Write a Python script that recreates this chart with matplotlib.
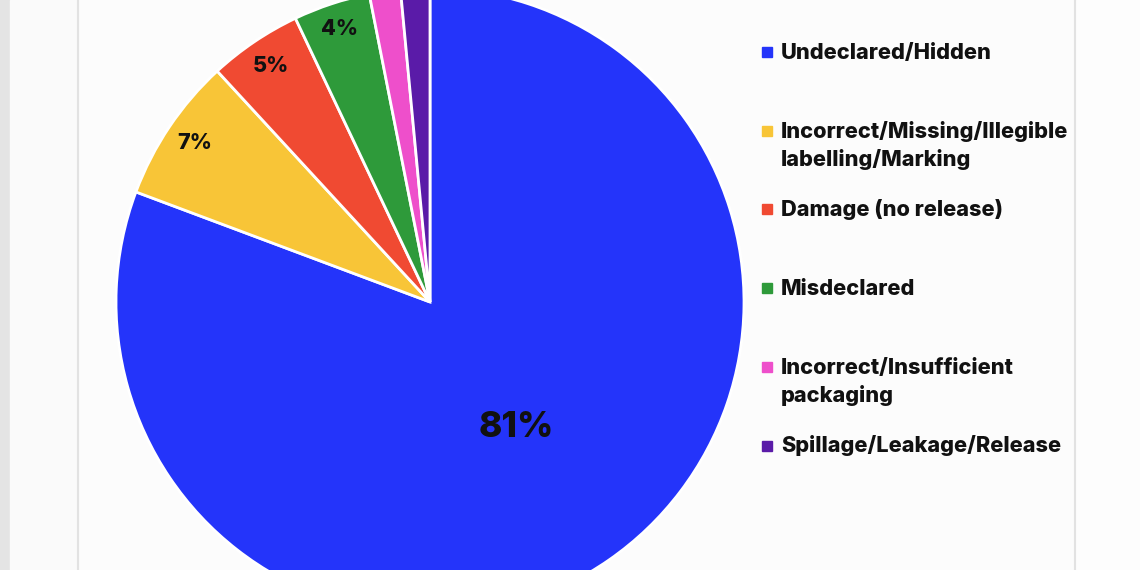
import matplotlib.pyplot as plt
import matplotlib.patches as mpatches
import numpy as np

plt.rcParams['font.family'] = ['Inter', 'DejaVu Sans']

categories = ['Undeclared/Hidden',
              'Incorrect/Missing/Illegible\nlabelling/Marking',
              'Damage (no release)',
              'Misdeclared',
              'Incorrect/Insufficient\npackaging',
              'Spillage/Leakage/Release']
shares = [80.7, 7.45, 4.8, 3.95, 1.6, 1.5]
colors = ['#2434FA', '#F8C537', '#F04A32', '#2E9A3A', '#EE4FCB', '#5A1BA8']
label_dist = [0.485, 0.905, 0.907, 0.915, 0, 0]

W, H = 1140, 570
fig = plt.figure(figsize=(W / 100, H / 100), dpi=100)
fig.patch.set_facecolor('#FCFCFC')

# page frame around the chart
fig.patches.append(mpatches.Rectangle((0, 0), 10 / W, 1, transform=fig.transFigure,
                                      color='#E4E4E4', zorder=0))
fig.patches.append(mpatches.Rectangle((10 / W, 0), 68 / W, 1, transform=fig.transFigure,
                                      color='#FAFAFA', zorder=0))
fig.patches.append(mpatches.Rectangle((1076 / W, 0), 64 / W, 1, transform=fig.transFigure,
                                      color='#FDFDFD', zorder=0))
for xl in (78, 1075):
    fig.add_artist(plt.Line2D([xl / W, xl / W], [0, 1], color='#E2E2E2', lw=1.5))

# pie: centre (430, 302) px, radius 314 px
cx, cy, r = 430, 302, 314
ax = fig.add_axes([(cx - r) / W, (H - cy - r) / H, 2 * r / W, 2 * r / H])
wedges, _ = ax.pie(shares, colors=colors, startangle=90, counterclock=False,
                   wedgeprops=dict(edgecolor='white', linewidth=2))
ax.set_xlim(-1, 1)
ax.set_ylim(-1, 1)

for w, v, d in zip(wedges, shares, label_dist):
    if v < 3:
        continue
    th = np.deg2rad((w.theta1 + w.theta2) / 2)
    size = 25.5 if v > 50 else 15.5
    ax.text(d * np.cos(th), d * np.sin(th), f'{v:.0f}%', ha='center', va='center',
            fontsize=size, fontweight='heavy', color='#111111')

# legend
y0, step, line_h = 59, 78.7, 28.5
for i, (lab, c) in enumerate(zip(categories, colors)):
    yb = y0 + i * step
    fig.patches.append(mpatches.Rectangle((762 / W, 1 - (yb - 2) / H), 10 / W, 10 / H,
                                          transform=fig.transFigure, color=c))
    for j, line in enumerate(lab.split('\n')):
        fig.text(781 / W, 1 - (yb + j * line_h) / H, line, ha='left', va='baseline',
                 fontsize=15.7, fontweight='heavy', color='#111111')

fig.savefig('out.png', dpi=100)
